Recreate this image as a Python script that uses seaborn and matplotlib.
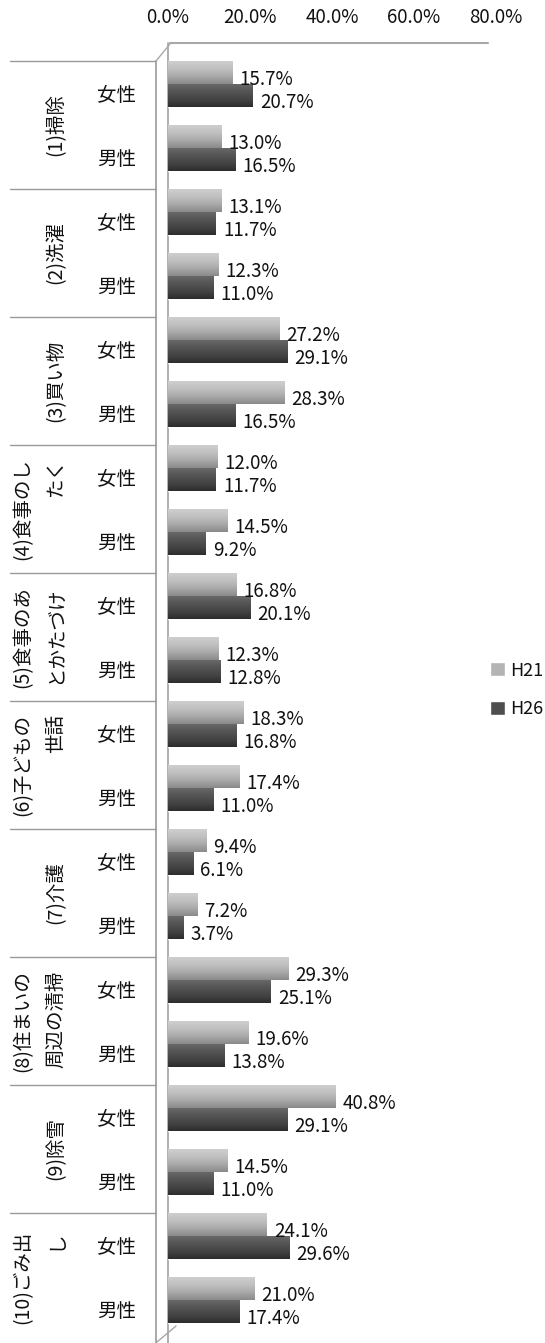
import numpy as np
import pandas as pd
import seaborn as sns
import matplotlib.pyplot as plt
from matplotlib.colors import LinearSegmentedColormap
from matplotlib.lines import Line2D
from matplotlib.transforms import blended_transform_factory, ScaledTranslation

categories = ["(1)掃除", "(2)洗濯", "(3)買い物", "(4)食事のし\nたく", "(5)食事のあ\nとかたづけ",
              "(6)子どもの\n世話", "(7)介護", "(8)住まいの\n周辺の清掃", "(9)除雪", "(10)ごみ出\nし"]
sexes = ["女性", "男性"]
years = ["H21", "H26"]
h21_female = [15.7, 13.1, 27.2, 12.0, 16.8, 18.3, 9.4, 29.3, 40.8, 24.1]
h26_female = [20.7, 11.7, 29.1, 11.7, 20.1, 16.8, 6.1, 25.1, 29.1, 29.6]
h21_male = [13.0, 12.3, 28.3, 14.5, 12.3, 17.4, 7.2, 19.6, 14.5, 21.0]
h26_male = [16.5, 11.0, 16.5, 9.2, 12.8, 11.0, 3.7, 13.8, 11.0, 17.4]
xticks = [0, 20, 40, 60, 80]

rows = []
records = []
for i, cat in enumerate(categories):
    for sex, v21, v26 in [("女性", h21_female[i], h26_female[i]), ("男性", h21_male[i], h26_male[i])]:
        key = cat + "|" + sex
        rows.append(key)
        records.append({"row": key, "year": "H21", "value": v21})
        records.append({"row": key, "year": "H26", "value": v26})
df = pd.DataFrame(records)

sns.set_style("white")
plt.rcParams['font.family'] = ['Noto Sans CJK JP', 'DejaVu Sans']

W, H = 545, 1343
fig = plt.figure(figsize=(W / 100, H / 100), dpi=100)
# bars sit 9px above the centre of their table row (3D floor look)
ax = fig.add_axes([168 / W, 11 / H, 328 / W, 1280 / H])
down = ScaledTranslation(0, -9 / 100, fig.dpi_scale_trans)

colors = ["#b4b4b4", "#4e4e4e"]
sns.barplot(data=df, x="value", y="row", hue="year", order=rows, hue_order=years,
            palette=colors, saturation=1, width=0.73, orient="h", ax=ax)

# cylinder-like shading on each bar
cmaps = [LinearSegmentedColormap.from_list("l", ["#d0d0d0", "#c2c2c2", "#aaaaaa", "#8a8a8a"]),
         LinearSegmentedColormap.from_list("d", ["#6a6a6a", "#555555", "#454545", "#2c2c2c"])]
grad = np.linspace(0, 1, 64).reshape(-1, 1)
for cont, cm in zip(ax.containers, cmaps):
    for p in cont:
        x0, y0 = p.get_x(), p.get_y()
        w, h = p.get_width(), p.get_height()
        im = ax.imshow(grad, cmap=cm, aspect="auto", extent=(x0, x0 + w, y0 + h, y0),
                       interpolation="bicubic", zorder=p.get_zorder() + 0.1)
        im.set_clip_path(p)
        ax.annotate(f"{w:.1f}%", (x0 + w, y0 + h / 2), xytext=(5, -5),
                    textcoords="offset points", va="center", ha="left", fontsize=13.5,
                    color="#111111", annotation_clip=False)

ax.set_xlim(0, 80)
ax.set_ylim(len(rows) - 0.5, -0.5)
ax.xaxis.tick_top()
ax.set_xticks(xticks)
ax.set_xticklabels([f"{t:.1f}%" for t in xticks])
ax.set_yticks(range(len(rows)))
ax.set_yticklabels([r.split("|")[1] for r in rows])
ax.tick_params(axis="x", length=0, pad=17, labelsize=13.5, labelcolor="#111111")
ax.tick_params(axis="y", length=0, pad=23, labelsize=14, labelcolor="#111111")
for lab in ax.get_yticklabels():
    lab.set_transform(lab.get_transform() + down)
ax.set_xlabel("")
ax.set_ylabel("")
for s in ax.spines.values():
    s.set_visible(False)

# category table on the left
trans = blended_transform_factory(fig.transFigure, ax.transData) + down
for i, cat in enumerate(categories):
    ax.text(66 / W, 2 * i + 0.5, cat, transform=trans, rotation=90, ha="right", va="center",
            fontsize=14, linespacing=1.7, color="#111111")
    ax.plot([10 / W, 156 / W], [2 * i - 0.5] * 2, transform=trans, color="#9a9a9a",
            lw=1, clip_on=False)

# 3D frame edges
gray = "#a8a8a8"
wall = blended_transform_factory(ax.transData, fig.transFigure)
ax.plot([0, 0], [1 - 43 / H, 0], transform=wall, color=gray, lw=1.3, clip_on=False, zorder=0)
fig.add_artist(Line2D([156 / W, 156 / W], [1 - 61 / H, 0], color="#9a9a9a", lw=1.2))
fig.add_artist(Line2D([170 / W, 488 / W], [1 - 43 / H] * 2, color=gray, lw=1.5))
fig.add_artist(Line2D([156 / W, 170 / W], [1 - 61 / H, 1 - 44 / H], color=gray, lw=1))
fig.add_artist(Line2D([157 / W, 176 / W], [1 - 1342 / H, 1 - 1326 / H], color=gray, lw=1))

leg = ax.legend(loc="center left", bbox_to_anchor=(483 / W, 1 - 690 / H),
                bbox_transform=fig.transFigure, frameon=False, fontsize=13,
                borderaxespad=0, handlelength=0.8, handleheight=0.8,
                labelspacing=1.15, handletextpad=0.3)
for t in leg.get_texts():
    t.set_color("#111111")

fig.savefig("out.png", dpi=100, facecolor="white")
